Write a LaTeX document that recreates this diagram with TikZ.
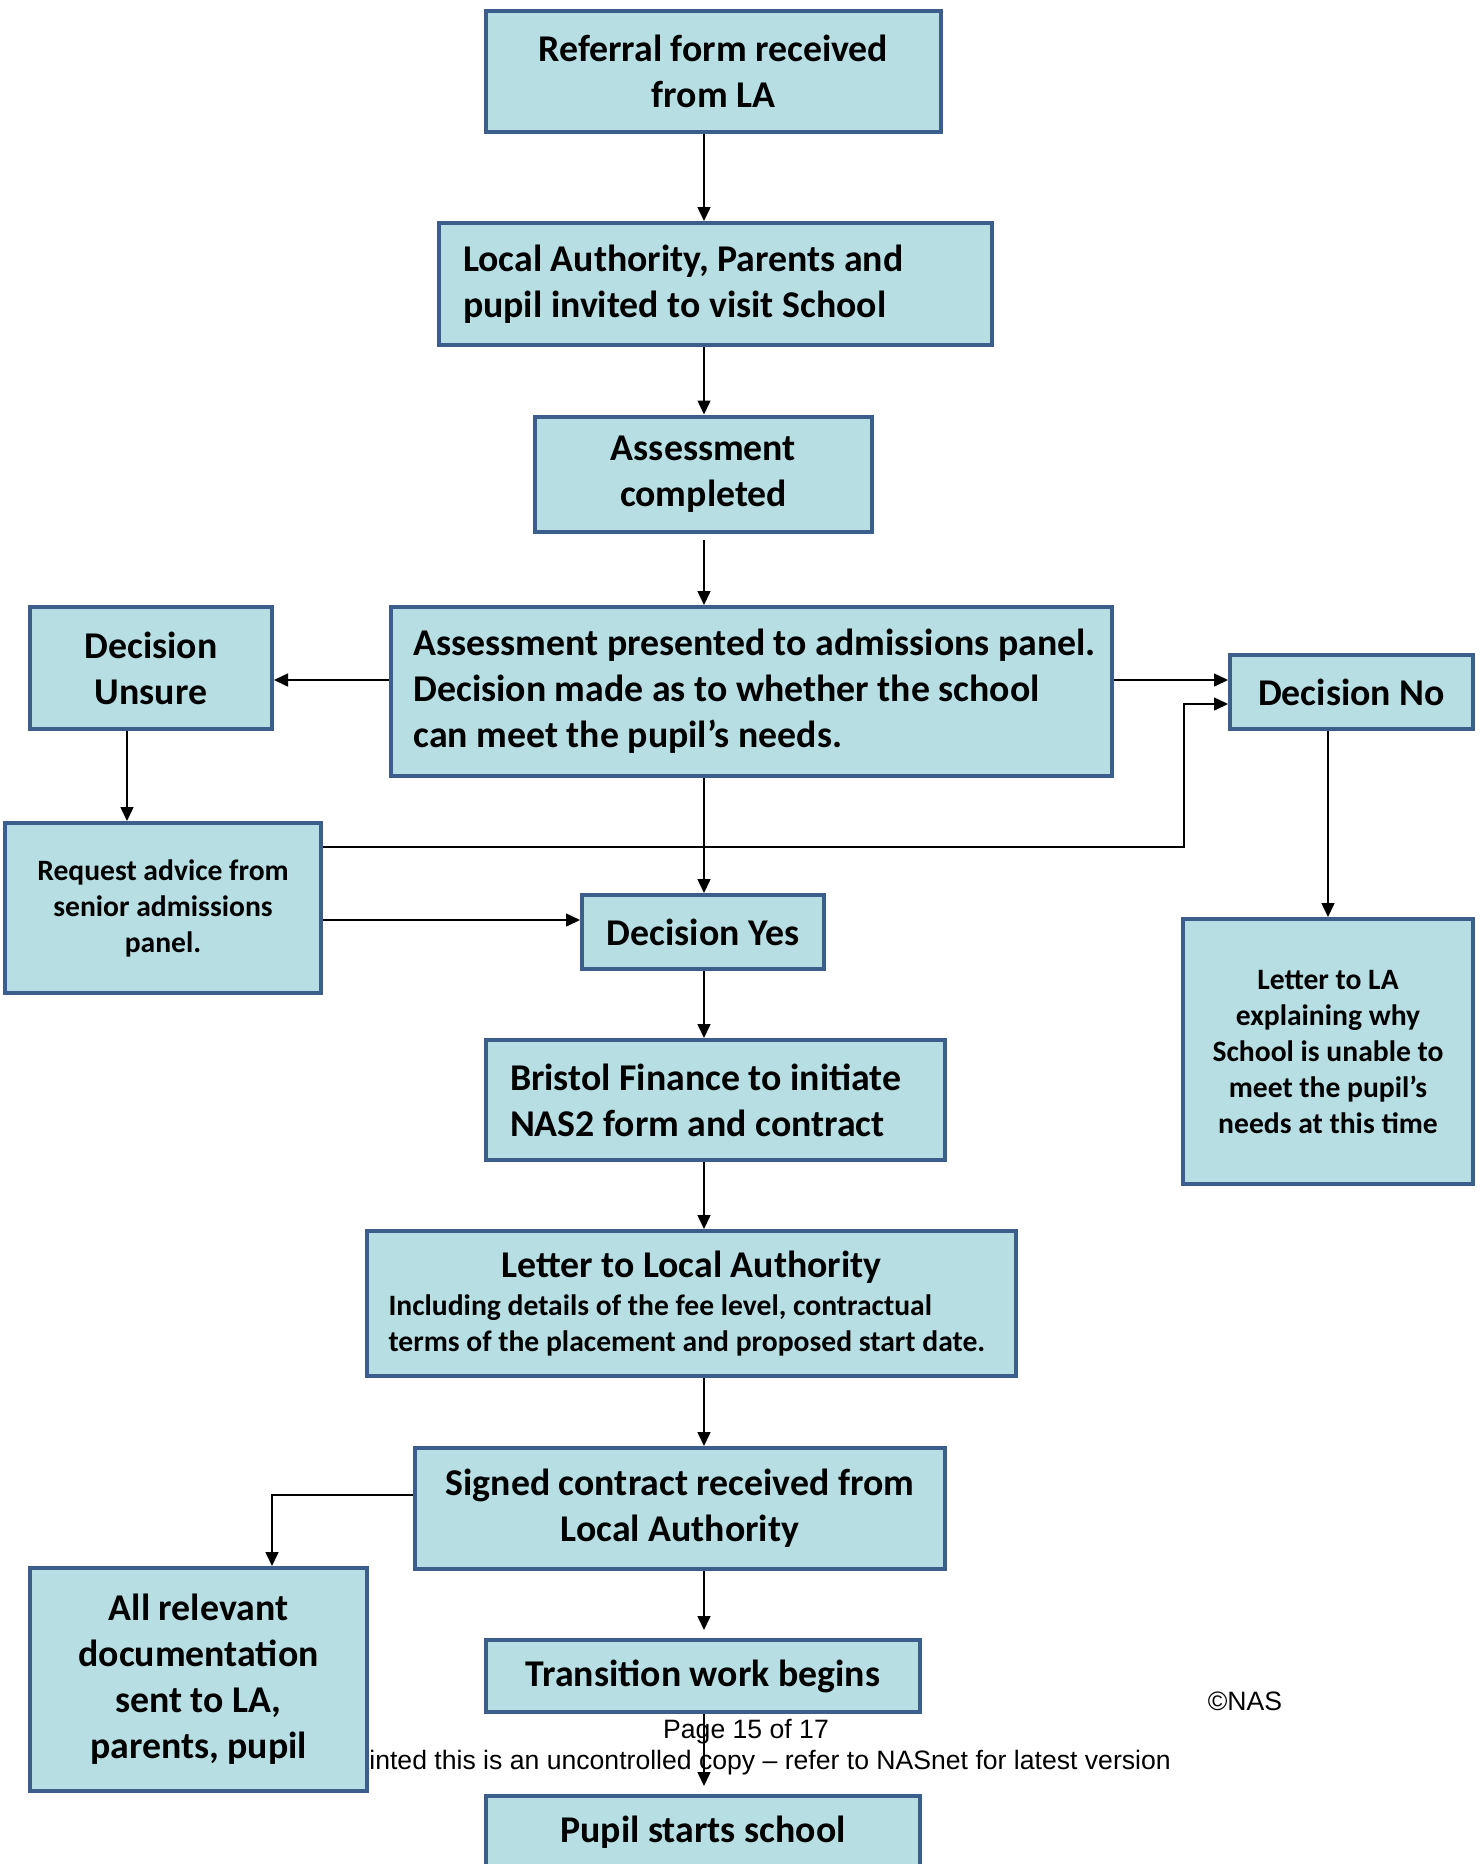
\documentclass[tikz,border=0pt]{standalone}
\usepackage{fontspec}
\setmainfont{Carlito}
\newfontfamily\footfont{Liberation Sans}
\usetikzlibrary{arrows.meta}

\definecolor{boxfill}{RGB}{183,222,227}
\definecolor{boxline}{RGB}{59,94,140}

\newcommand{\bigtxt}{\fontsize{18.9}{23}\selectfont\bfseries}
\newcommand{\smalltxt}{\fontsize{14.8}{18}\selectfont\bfseries}
\newcommand{\foottxt}{\footfont\fontsize{13.3}{15.5}\selectfont}
\newcommand{\ind}{\hspace*{3.5pt}}

\tikzset{
  stage/.style={draw=boxline, fill=boxfill, line width=2pt, inner sep=0pt, align=center, font=\bigtxt},
  flow/.style={-{Triangle[length=7pt,width=6.5pt]}, line width=0.75pt},
}

\begin{document}
\begin{tikzpicture}[x=0.5pt,y=-0.5pt]
\useasboundingbox (0,0) rectangle (1481,1864);

% footer of the page
\node[font=\foottxt] (pagenum) at (746,1732) {Page 15 of 17};
\node[font=\foottxt, anchor=west, inner sep=0pt] (notice) at (369,1763) {inted this is an uncontrolled copy – refer to NASnet for latest version};
\node[font=\foottxt] (copy) at (1245,1701) {©NAS};

% main column
\node[stage, minimum width=227.5pt, minimum height=60.5pt] (referral) at (713.5,71.5) {Referral form received\\from LA};
\node[stage, minimum height=61pt, text width=252.5pt, inner xsep=12pt, align=flush left] (visit) at (715.5,284) {Local Authority, Parents and\\pupil invited to visit School};
\node[stage, minimum width=168.5pt, minimum height=57.5pt] (done) at (703.5,474) {Assessment\\completed};
\node[stage, minimum height=84.5pt, text width=345pt, inner xsep=7.75pt, align=flush left] (panel) at (751.5,691.5) {\ind Assessment presented to admissions panel.\\\ind Decision made as to whether the school\\\ind can meet the pupil’s needs.};
\node[stage, minimum width=121pt, minimum height=37pt] (yes) at (703,932) {Decision Yes};
\node[stage, minimum height=60pt, text width=205.5pt, inner xsep=12pt, align=flush left] (finance) at (715.5,1100) {Bristol Finance to initiate\\NAS2 form and contract};
\node[stage, minimum height=72.5pt, text width=303pt, inner xsep=10.7pt, align=flush left] (laletter) at (691.5,1303.5)
  {\centering Letter to Local Authority\par\vspace{1pt}\raggedright\smalltxt Including details of the fee level, contractual\\terms of the placement and proposed start date.\par};
\node[stage, minimum width=265pt, minimum height=60.5pt] (signed) at (680,1508.5) {Signed contract received from\\Local Authority};
\node[stage, minimum width=217pt, minimum height=36pt] (transition) at (703,1676) {Transition work begins};
\node[stage, minimum width=217pt, minimum height=36pt] (starts) at (703,1832) {Pupil starts school};

% side branches
\node[stage, minimum width=121pt, minimum height=61pt] (unsure) at (151,668) {Decision\\Unsure};
\node[stage, minimum width=158pt, minimum height=85pt, font=\smalltxt] (advice) at (163,908) {Request advice from\\senior admissions\\panel.};
\node[stage, minimum width=121.5pt, minimum height=37pt] (no) at (1351.5,692) {Decision No};
\node[stage, minimum width=145pt, minimum height=132.5pt, font=\smalltxt] (noletter) at (1328,1051.5) {Letter to LA\\explaining why\\School is unable to\\meet the pupil’s\\needs at this time};
\node[stage, minimum width=168.5pt, minimum height=111.5pt] (docs) at (198.5,1679.5) {All relevant\\documentation\\sent to LA,\\parents, pupil};

% helper coordinates
\coordinate (spine) at (704,0);
\coordinate (fork) at (0,680);
\coordinate (drop) at (127,0);
\coordinate (adv1) at (0,847);
\coordinate (bendx) at (1184,704);
\coordinate (adv2) at (0,920);
\coordinate (sgn) at (272,1495);

% connectors
\draw[flow] (referral.south -| spine) -- (visit.north -| spine);
\draw[flow] (visit.south -| spine) -- (done.north -| spine);
\draw[flow, shorten <=3pt] (done.south -| spine) -- (panel.north -| spine);
\draw[flow] (panel.south -| spine) -- (yes.north -| spine);
\draw[flow] (yes.south -| spine) -- (finance.north -| spine);
\draw[flow] (finance.south -| spine) -- (laletter.north -| spine);
\draw[flow] (laletter.south -| spine) -- (signed.north -| spine);
\draw[flow, shorten >=4pt] (signed.south -| spine) -- (transition.north -| spine);
\draw[flow, shorten >=4pt] (transition.south -| spine) -- (starts.north -| spine);
\draw[flow] (panel.west |- fork) -- (unsure.east |- fork);
\draw[flow] (panel.east |- fork) -- (no.west |- fork);
\draw[flow] (unsure.south -| drop) -- (advice.north -| drop);
\draw[flow] (advice.east |- adv1) -| (bendx) -- (no.west |- bendx);
\draw[flow] (advice.east |- adv2) -- (yes.west |- adv2);
\draw[flow] (no.south -| noletter) -- (noletter.north);
\draw[flow] (signed.west |- sgn) -| (docs.north -| sgn);
\end{tikzpicture}
\end{document}
